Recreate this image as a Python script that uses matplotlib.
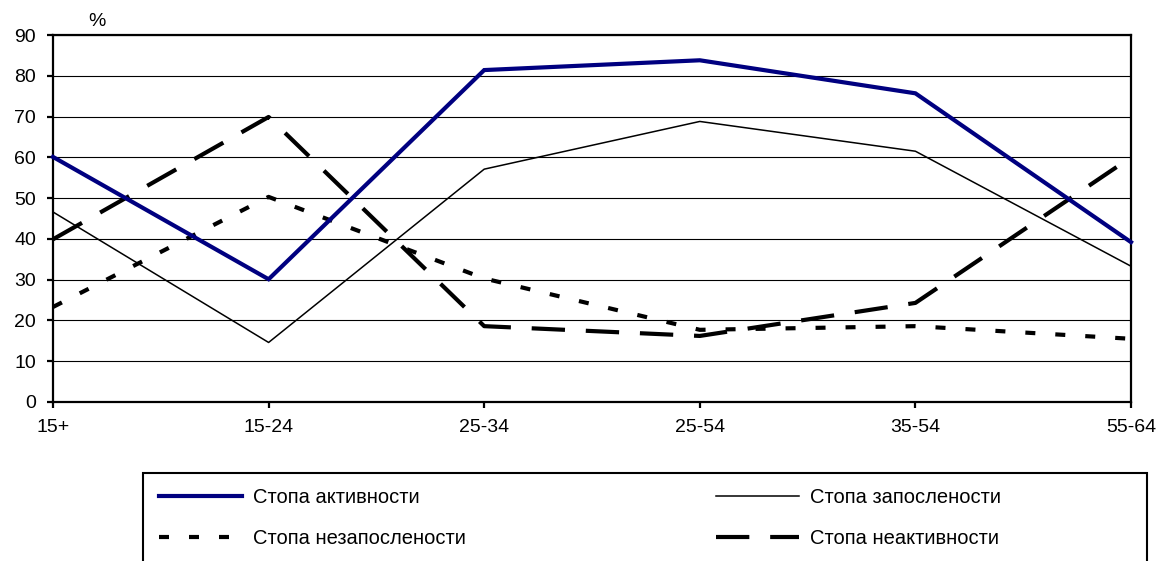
import matplotlib.pyplot as plt
from matplotlib.patches import Rectangle

plt.rcParams['font.family'] = ['Liberation Sans', 'DejaVu Sans']

groups = ['15+', '15-24', '25-34', '25-54', '35-54', '55-64']
activity = [60.1, 30.1, 81.4, 83.8, 75.7, 39.2]
employment = [46.6, 14.6, 57.1, 68.8, 61.5, 33.3]
unemployment = [23.3, 50.3, 30.3, 17.7, 18.6, 15.5]
inactivity = [39.9, 69.9, 18.6, 16.2, 24.3, 60.0]

labels = ['Стопа активности', 'Стопа запослености',
          'Стопа незапослености', 'Стопа неактивности']

fs = 14
leg_fs = 14.5

fig = plt.figure(figsize=(11.62, 5.61), dpi=100)
ax = fig.add_axes([53/1162, 1 - 402/561, (1131-53)/1162, (402-35)/561])

x = range(len(groups))
l_act, = ax.plot(x, activity, color='#000080', lw=3.0, clip_on=False,
                 solid_joinstyle='miter', zorder=5)
l_emp, = ax.plot(x, employment, color='black', lw=1.1, clip_on=False, zorder=4)
l_une, = ax.plot(x, unemployment, color='black', lw=3.0, clip_on=False,
                 dashes=(2.4, 4.8), dash_capstyle='butt', zorder=4)
l_ina, = ax.plot(x, inactivity, color='black', lw=3.0, clip_on=False,
                 dashes=(8, 5), dash_capstyle='butt', zorder=4)

ax.set_xlim(0, len(groups) - 1)
ax.set_ylim(0, 90)
ax.set_yticks(range(0, 91, 10))
ax.set_xticks(list(x))
ax.set_xticklabels(groups)
ax.yaxis.grid(True, color='black', lw=0.8)
ax.set_axisbelow(True)

for s in ax.spines.values():
    s.set_linewidth(1.6)
ax.tick_params(axis='both', direction='out', length=4.3, width=1.6,
               labelsize=fs, colors='black')
ax.tick_params(axis='y', pad=8)
ax.tick_params(axis='x', pad=8)

fig.text(97/1162, 1 - 21/561, '%', ha='center', va='center', fontsize=fs)

# legend box, drawn separately so it can run off the bottom edge
fig.patches.append(Rectangle((143/1162, -0.1), (1147-143)/1162, 0.1 + (561-473)/561,
                             transform=fig.transFigure, fill=False,
                             lw=1.5, ec='black'))

leg = fig.legend([l_act, l_une, l_emp, l_ina],
                 [labels[0], labels[2], labels[1], labels[3]],
                 ncol=2, loc='upper left',
                 bbox_to_anchor=(155/1162, 1 - 484/561),
                 frameon=False, fontsize=leg_fs, handlelength=4.1,
                 handletextpad=0.55, labelspacing=1.11, columnspacing=12.45,
                 borderpad=0.2, borderaxespad=0)

fig.savefig('out.png', dpi=100)
